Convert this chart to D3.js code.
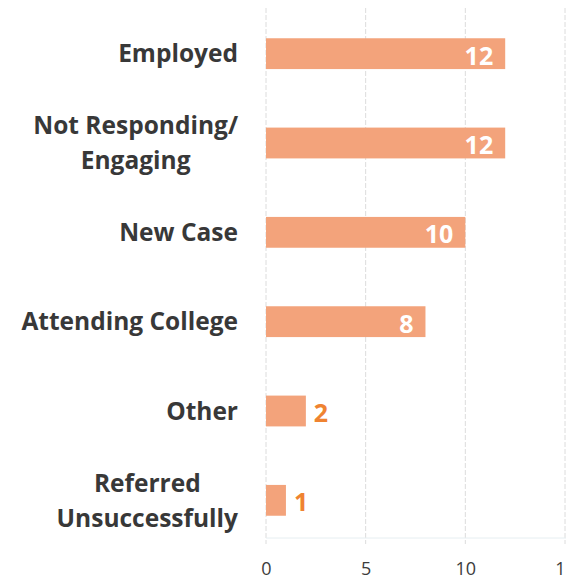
<!DOCTYPE html>
<html>
<head>
<meta charset="utf-8">
<script src="https://cdn.jsdelivr.net/npm/d3@7"></script>
<style>
  html, body { margin: 0; padding: 0; background: #ffffff; }
  svg { display: block; }
</style>
</head>
<body>
<svg id="chart" width="566" height="580"></svg>
<script>
// Case status counts
const categories = [
  "Employed",
  "Not Responding/\nEngaging",
  "New Case",
  "Attending College",
  "Other",
  "Referred\nUnsuccessfully"
];
const counts = [12, 12, 10, 8, 2, 1];
const tickValues = [0, 5, 10, 15];

const data = categories.map((c, i) => ({ label: c, value: counts[i] }));

const svg = d3.select("#chart");
const font = "'Open Sans', 'DejaVu Sans', sans-serif";

const x = d3.scaleLinear().domain([0, 15]).range([266, 565]);
const y = d3.scaleBand()
  .domain(data.map(d => d.label))
  .range([9, 545])
  .paddingInner(0.655)
  .paddingOuter(0.3275);

const barColor = "#f3a37b";
const outsideColor = "#ef8331";

// vertical dashed gridlines
svg.append("g")
  .selectAll("line")
  .data(tickValues)
  .join("line")
  .attr("x1", d => x(d)).attr("x2", d => x(d))
  .attr("y1", 8).attr("y2", 544)
  .attr("stroke", "#dcdcdc")
  .attr("stroke-width", 1)
  .attr("stroke-dasharray", "5,2");

// faint baseline
svg.append("line")
  .attr("x1", x(0)).attr("x2", 566)
  .attr("y1", 538).attr("y2", 538)
  .attr("stroke", "#e6eef1")
  .attr("stroke-width", 1);

// x axis tick labels
const xAxis = d3.axisBottom(x).tickValues(tickValues).tickSize(0).tickPadding(0);
const ax = svg.append("g")
  .attr("transform", "translate(0,562)")
  .call(xAxis);
ax.select(".domain").remove();
ax.selectAll("text")
  .attr("font-family", font)
  .attr("font-size", 18)
  .attr("fill", "#3c3c3c")
  .attr("dy", "0.71em");

// bars
svg.append("g")
  .selectAll("rect")
  .data(data)
  .join("rect")
  .attr("x", x(0))
  .attr("y", d => y(d.label))
  .attr("width", d => x(d.value) - x(0))
  .attr("height", y.bandwidth())
  .attr("fill", barColor);

// value labels: inside (white) for long bars, outside (orange) for short ones
svg.append("g")
  .selectAll("text")
  .data(data)
  .join("text")
  .attr("x", d => d.value >= 5 ? x(d.value) - 12 : x(d.value) + 8)
  .attr("y", d => y(d.label) + y.bandwidth() / 2 + 2)
  .attr("dy", "0.36em")
  .attr("text-anchor", d => d.value >= 5 ? "end" : "start")
  .attr("font-family", font)
  .attr("font-weight", 700)
  .attr("font-size", 25)
  .attr("fill", d => d.value >= 5 ? "#ffffff" : outsideColor)
  .text(d => d.value);

// category labels, right-aligned block with centred lines
const lineGap = 35;
const catG = svg.append("g");
data.forEach(d => {
  const lines = d.label.split("\n");
  const cy = y(d.label) + y.bandwidth() / 2;
  const t = catG.append("text")
    .attr("font-family", font)
    .attr("font-weight", 700)
    .attr("font-size", 24.5)
    .attr("fill", "#383838");
  const spans = lines.map((ln, i) => t.append("tspan")
    .attr("y", cy + (i - (lines.length - 1) / 2) * lineGap)
    .attr("dy", "0.36em")
    .text(ln));
  const widths = spans.map(s => s.node().getComputedTextLength());
  const maxW = d3.max(widths);
  const right = 238;
  const center = right - maxW / 2;
  spans.forEach(s => s.attr("x", center).attr("text-anchor", "middle"));
});
</script>
</body>
</html>
